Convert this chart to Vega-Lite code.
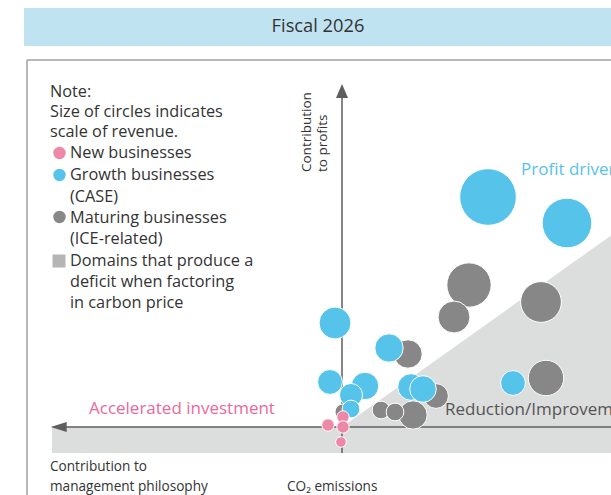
{
  "$schema": "https://vega.github.io/schema/vega-lite/v6.json",
  "width": 611,
  "height": 495,
  "padding": 0,
  "autosize": {"type": "none"},
  "background": "white",
  "config": {"view": {"stroke": null}, "text": {"font": "Open Sans"}},
  "datasets": {
    "banner": [{"x": -31.8, "x2": 30, "y": 41.9, "y2": 38.1}],
    "title": [{"x": -2.4, "y": 40.0, "label": "Fiscal 2026"}],
    "frame": [
      {"x": -31.5, "x2": -31.5, "y": 36.7, "y2": -8},
      {"x": -31.5, "x2": 30, "y": 36.7, "y2": 36.7}
    ],
    "band": [{"x": -29.0, "x2": 30, "y": 0, "y2": -2.6}],
    "deficit": [{"x": 0, "y": 0, "y2": 0}, {"x": 30, "y": 21.36, "y2": 0}],
    "axes": [
      {"x": -27.6, "x2": 30, "y": 0, "y2": 0},
      {"x": 0, "x2": 0, "y": 32.9, "y2": -2.6}
    ],
    "arrowUp": [{"x": 0, "y": 33.6}],
    "arrowLeft": [{"x": -28.33, "y": 0}],
    "bubbles": [
      {"group": "Maturing businesses", "x": 12.7, "y": 14.2, "revenue": 625},
      {"group": "Maturing businesses", "x": 11.2, "y": 11.0, "revenue": 324},
      {"group": "Maturing businesses", "x": 19.9, "y": 12.5, "revenue": 529},
      {"group": "Maturing businesses", "x": 20.4, "y": 4.9, "revenue": 400},
      {"group": "Maturing businesses", "x": 6.6, "y": 7.3, "revenue": 256},
      {"group": "Maturing businesses", "x": 9.4, "y": 3.1, "revenue": 196},
      {"group": "Maturing businesses", "x": 7.1, "y": 1.2, "revenue": 256},
      {"group": "Maturing businesses", "x": 3.9, "y": 1.7, "revenue": 100},
      {"group": "Maturing businesses", "x": 5.3, "y": 1.5, "revenue": 100},
      {"group": "Maturing businesses", "x": 0.1, "y": 1.5, "revenue": 81},
      {"group": "Growth businesses", "x": 14.6, "y": 23.0, "revenue": 1024},
      {"group": "Growth businesses", "x": 22.5, "y": 20.4, "revenue": 784},
      {"group": "Growth businesses", "x": -0.7, "y": 10.4, "revenue": 324},
      {"group": "Growth businesses", "x": 4.7, "y": 7.9, "revenue": 256},
      {"group": "Growth businesses", "x": -1.2, "y": 4.5, "revenue": 196},
      {"group": "Growth businesses", "x": 2.3, "y": 4.1, "revenue": 240},
      {"group": "Growth businesses", "x": 0.9, "y": 3.2, "revenue": 169},
      {"group": "Growth businesses", "x": 0.9, "y": 1.8, "revenue": 100},
      {"group": "Growth businesses", "x": 6.9, "y": 4.0, "revenue": 225},
      {"group": "Growth businesses", "x": 8.1, "y": 3.8, "revenue": 225},
      {"group": "Growth businesses", "x": 17.1, "y": 4.4, "revenue": 196},
      {"group": "New businesses", "x": -1.4, "y": 0.2, "revenue": 49},
      {"group": "New businesses", "x": 0.1, "y": 1.0, "revenue": 49},
      {"group": "New businesses", "x": 0.1, "y": 0.0, "revenue": 49},
      {"group": "New businesses", "x": -0.1, "y": -1.5, "revenue": 36}
    ],
    "legendDots": [
      {"group": "New businesses", "x": -28.25, "y": 27.4},
      {"group": "Growth businesses", "x": -28.25, "y": 25.2},
      {"group": "Maturing businesses", "x": -28.25, "y": 21.0}
    ],
    "legendSquare": [{"x": -28.3, "y": 16.6}],
    "legendText": [
      {"x": -29.2, "y": 33.55, "label": "Note:"},
      {"x": -29.2, "y": 31.55, "label": "Size of circles indicates"},
      {"x": -29.2, "y": 29.55, "label": "scale of revenue."},
      {"x": -27.2, "y": 27.4, "label": "New businesses"},
      {"x": -27.2, "y": 25.2, "label": "Growth businesses"},
      {"x": -27.2, "y": 23.05, "label": "(CASE)"},
      {"x": -27.2, "y": 20.95, "label": "Maturing businesses"},
      {"x": -27.2, "y": 18.8, "label": "(ICE-related)"},
      {"x": -27.2, "y": 16.65, "label": "Domains that produce a"},
      {"x": -27.2, "y": 14.5, "label": "deficit when factoring"},
      {"x": -27.2, "y": 12.4, "label": "in carbon price"}
    ],
    "axisText": [
      {"x": -29.2, "y": -4.0, "label": "Contribution to"},
      {"x": -29.2, "y": -6.0, "label": "management philosophy"},
      {"x": -5.5, "y": -6.0, "label": "CO\u2082 emissions"}
    ],
    "vertText": [
      {"x": -3.5, "y": 25.5, "label": "Contribution"},
      {"x": -1.9, "y": 25.5, "label": "to profits"}
    ],
    "pinkText": [{"x": -25.3, "y": 1.8, "label": "Accelerated investment"}],
    "blueText": [{"x": 17.9, "y": 25.7, "label": "Profit drivers"}],
    "grayText": [{"x": 10.3, "y": 1.7, "label": "Reduction/Improvement"}]
  },
  "encoding": {
    "x": {"field": "x", "type": "quantitative", "scale": {"domain": [-34.2, 26.9], "nice": false, "zero": false}, "axis": null},
    "y": {"field": "y", "type": "quantitative", "scale": {"domain": [-6.8, 42.7], "nice": false, "zero": false}, "axis": null}
  },
  "layer": [
    {
      "data": {"name": "banner"},
      "mark": {"type": "rect", "color": "#bfe3f1"},
      "encoding": {"x2": {"field": "x2"}, "y2": {"field": "y2"}}
    },
    {
      "data": {"name": "title"},
      "mark": {"type": "text", "fontSize": 18.3, "color": "#333333", "align": "center", "baseline": "middle"},
      "encoding": {"text": {"field": "label"}}
    },
    {
      "data": {"name": "frame"},
      "mark": {"type": "rule", "color": "#a0a0a0", "strokeWidth": 1.5},
      "encoding": {"x2": {"field": "x2"}, "y2": {"field": "y2"}}
    },
    {
      "data": {"name": "band"},
      "mark": {"type": "rect", "color": "#dcdddd"},
      "encoding": {"x2": {"field": "x2"}, "y2": {"field": "y2"}}
    },
    {
      "data": {"name": "deficit"},
      "mark": {"type": "area", "color": "#dcdddd", "orient": "vertical", "opacity": 1},
      "encoding": {"y2": {"field": "y2"}}
    },
    {
      "data": {"name": "axes"},
      "mark": {"type": "rule", "color": "#5e5e5e", "strokeWidth": 1.5},
      "encoding": {"x2": {"field": "x2"}, "y2": {"field": "y2"}}
    },
    {
      "data": {"name": "arrowUp"},
      "mark": {"type": "point", "shape": "M0,-1L0.857,1L-0.857,1Z", "size": 196, "filled": true, "color": "#5e5e5e", "opacity": 1}
    },
    {
      "data": {"name": "arrowLeft"},
      "mark": {"type": "point", "shape": "M-1,0L1,-0.625L1,0.625Z", "size": 256, "filled": true, "color": "#5e5e5e", "opacity": 1}
    },
    {
      "data": {"name": "bubbles"},
      "mark": {"type": "circle", "opacity": 1, "stroke": "white", "strokeWidth": 1},
      "encoding": {
        "color": {"field": "group", "type": "nominal", "scale": {"domain": ["New businesses", "Growth businesses", "Maturing businesses"], "range": ["#ee88a8", "#56c3ea", "#878787"]}, "legend": null},
        "size": {"field": "revenue", "type": "quantitative", "scale": {"type": "linear", "domain": [0, 1000], "range": [0, 3141.6], "zero": true}, "legend": null}
      }
    },
    {
      "data": {"name": "legendDots"},
      "mark": {"type": "circle", "opacity": 1, "size": 154},
      "encoding": {
        "color": {"field": "group", "type": "nominal", "legend": null}
      }
    },
    {
      "data": {"name": "legendSquare"},
      "mark": {"type": "square", "opacity": 1, "size": 169, "color": "#b5b5b5"}
    },
    {
      "data": {"name": "legendText"},
      "mark": {"type": "text", "fontSize": 16.3, "color": "#333333", "align": "left", "baseline": "middle"},
      "encoding": {"text": {"field": "label"}}
    },
    {
      "data": {"name": "axisText"},
      "mark": {"type": "text", "fontSize": 13.6, "color": "#333333", "align": "left", "baseline": "middle"},
      "encoding": {"text": {"field": "label"}}
    },
    {
      "data": {"name": "vertText"},
      "mark": {"type": "text", "fontSize": 13.5, "color": "#333333", "align": "left", "baseline": "middle", "angle": 270},
      "encoding": {"text": {"field": "label"}}
    },
    {
      "data": {"name": "pinkText"},
      "mark": {"type": "text", "fontSize": 17, "color": "#e9699b", "align": "left", "baseline": "middle"},
      "encoding": {"text": {"field": "label"}}
    },
    {
      "data": {"name": "blueText"},
      "mark": {"type": "text", "fontSize": 17, "color": "#56c3ea", "align": "left", "baseline": "middle"},
      "encoding": {"text": {"field": "label"}}
    },
    {
      "data": {"name": "grayText"},
      "mark": {"type": "text", "fontSize": 17, "color": "#555555", "align": "left", "baseline": "middle"},
      "encoding": {"text": {"field": "label"}}
    }
  ]
}
